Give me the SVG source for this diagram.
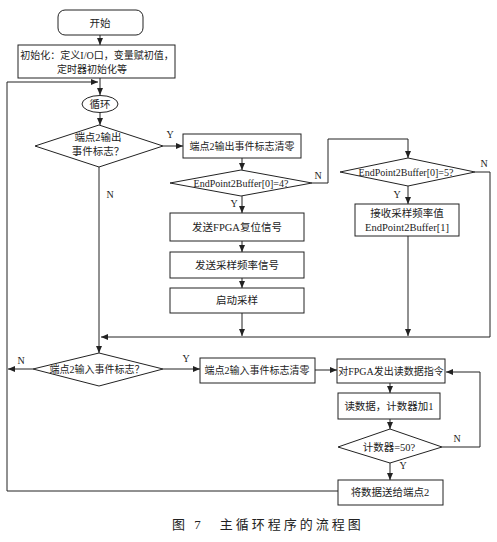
<svg xmlns="http://www.w3.org/2000/svg" width="497" height="542" viewBox="0 0 497 542">
<defs>
<marker id="a" markerWidth="8" markerHeight="8" refX="7" refY="4" orient="auto" markerUnits="userSpaceOnUse"><path d="M0,1 L7,4 L0,7 z" fill="#222"/></marker>
</defs>
<style>
.s{fill:#fff;stroke:#222;stroke-width:1}
.c{fill:none;stroke:#222;stroke-width:1;marker-end:url(#a)}
text{font-family:"Liberation Serif","Noto Sans CJK SC",serif;font-size:10.5px;fill:#222;text-anchor:middle}
.t{font-size:10px}
.yn{font-size:10px}
.cap{font-size:13px;text-anchor:start;letter-spacing:3px}
</style>
<rect width="497" height="542" fill="#fff"/>
<g id="connectors">
<path class="c" d="M100,35 V45"/>
<path class="c" d="M100,78 V95"/>
<path class="c" d="M338,491 H7 V82 H98"/>
<path class="c" d="M100,112 V125"/>
<path class="c" d="M163,146 H183"/>
<path class="c" d="M242,158 V170"/>
<path class="c" d="M242,196 V213"/>
<path class="c" d="M242,241 V252"/>
<path class="c" d="M242,278 V288"/>
<path class="c" d="M242,313 V336"/>
<path class="c" d="M312,183 H328 V139 H408 V158"/>
<path class="c" d="M408,186 V204"/>
<path class="c" d="M408,236 V336"/>
<path class="c" d="M475,172 H490 V337 H101"/>
<path class="c" d="M99,167 V353"/>
<path class="c" d="M33,369 H8"/>
<path class="c" d="M163,369 H200"/>
<path class="c" d="M315,370 H337"/>
<path class="c" d="M390,383 V393"/>
<path class="c" d="M390,419 V429"/>
<path class="c" d="M390,463 V480"/>
<path class="c" d="M442,447 H480 V372 H446"/>
<text class="yn" x="170" y="138">Y</text>
<text class="yn" x="110" y="198">N</text>
<text class="yn" x="318" y="179">N</text>
<text class="yn" x="234" y="207">Y</text>
<text class="yn" x="484" y="167">N</text>
<text class="yn" x="397" y="198">Y</text>
<text class="yn" x="21" y="364">N</text>
<text class="yn" x="186" y="362">Y</text>
<text class="yn" x="457" y="442">N</text>
<text class="yn" x="403" y="469">Y</text>
</g>
<g id="start"><rect class="s" x="58" y="10" width="85" height="25" rx="7"/><text x="100" y="26.5">开始</text></g>
<g id="init"><rect class="s" x="18" y="45" width="157" height="33"/><text class="t" x="97" y="59">初始化：定义I/O口，变量赋初值，</text><text class="t" x="92" y="73">定时器初始化等</text></g>
<g id="loop"><ellipse class="s" cx="100" cy="104" rx="18" ry="8.5"/><text x="100" y="107.5">循环</text></g>
<g id="d1"><path class="s" d="M99,125 L163,146 L99,167 L35,146 Z"/><text x="98" y="141">端点2输出</text><text x="98" y="155">事件标志？</text></g>
<g id="clrOut"><rect class="s" x="183" y="134" width="118" height="24"/><text class="t" x="242" y="150">端点2输出事件标志清零</text></g>
<g id="d2"><path class="s" d="M241,170 L312,183 L241,196 L170,183 Z"/><text class="t" x="241" y="187">EndPoint2Buffer[0]=4?</text></g>
<g id="reset"><rect class="s" x="170" y="213" width="134" height="28"/><text x="237" y="231">发送FPGA复位信号</text></g>
<g id="freq"><rect class="s" x="170" y="252" width="134" height="26"/><text x="237" y="269">发送采样频率信号</text></g>
<g id="startS"><rect class="s" x="170" y="288" width="134" height="25"/><text x="237" y="304">启动采样</text></g>
<g id="d3"><path class="s" d="M408,158 L475,172 L408,186 L340,172 Z"/><text class="t" x="406" y="176">EndPoint2Buffer[0]=5?</text></g>
<g id="recv"><rect class="s" x="355" y="204" width="104" height="32"/><text x="407" y="217">接收采样频率值</text><text x="407" y="231">EndPoint2Buffer[1]</text></g>
<g id="d4"><path class="s" d="M99,353 L163,369 L99,386 L33,369 Z"/><text class="t" x="97" y="373">端点2输入事件标志？</text></g>
<g id="clrIn"><rect class="s" x="200" y="358" width="115" height="25"/><text class="t" x="257" y="374">端点2输入事件标志清零</text></g>
<g id="readCmd"><rect class="s" x="337" y="359" width="108" height="24"/><text class="t" x="391" y="375">对FPGA发出读数据指令</text></g>
<g id="readData"><rect class="s" x="338" y="393" width="102" height="26"/><text x="389" y="410">读数据，计数器加1</text></g>
<g id="d5"><path class="s" d="M390,429 L442,447 L390,463 L338,447 Z"/><text x="389" y="451">计数器=50?</text></g>
<g id="send"><rect class="s" x="338" y="480" width="105" height="25"/><text x="390" y="496">将数据送给端点2</text></g>
<text class="cap" x="172" y="529">图 7　主循环程序的流程图</text>
</svg>
